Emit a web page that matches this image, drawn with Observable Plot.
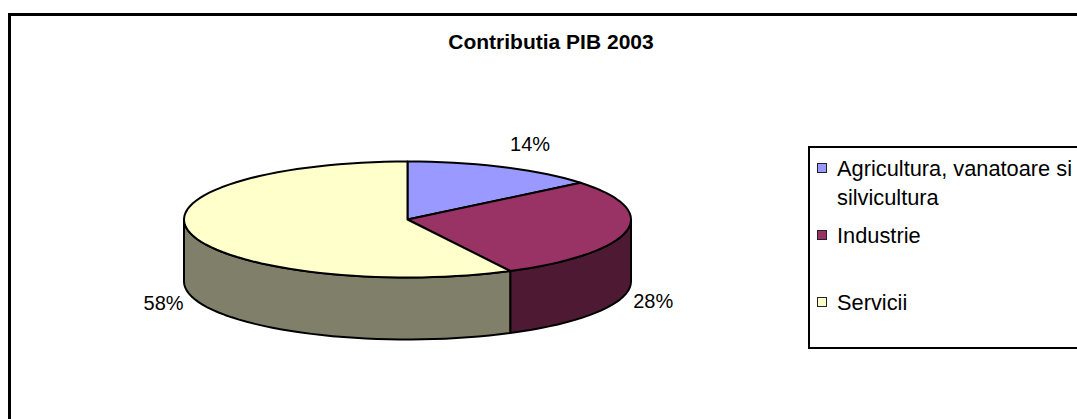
<!DOCTYPE html>
<html>
<head>
<meta charset="utf-8">
<script src="https://cdn.jsdelivr.net/npm/d3@7"></script>
<script src="https://cdn.jsdelivr.net/npm/@observablehq/plot@0.6"></script>
<style>
  html, body { margin: 0; padding: 0; background: #fff; }
  #wrap { position: relative; width: 1077px; height: 419px; overflow: hidden; font-family: "Liberation Sans", Arial, sans-serif; }
  #frame { position: absolute; left: 8px; top: 13px; width: 1200px; height: 600px; border-left: 3px solid #000; border-top: 3px solid #000; }
  #title { position: absolute; left: 351px; width: 400px; top: 31px; text-align: center; font-weight: bold; font-size: 21px; line-height: 21px; color: #000; }
  #chart { position: absolute; left: 0; top: 0; }
  #legend { position: absolute; left: 808px; top: 146px; width: 400px; height: 199px; border: 2px solid #000; background: #fff; }
  .li { position: absolute; font-size: 21.8px; line-height: 21px; white-space: nowrap; color: #000; }
  .sw { position: absolute; width: 8px; height: 8px; border: 1.5px solid #222; }
</style>
</head>
<body>
<div id="wrap">
  <div id="frame"></div>
  <div id="title"></div>
  <div id="chart"></div>
  <div id="legend"></div>
</div>
<script>
// ---- data ----
const title = "Contributia PIB 2003";
const categories = ["Agricultura, vanatoare si silvicultura", "Industrie", "Servicii"];
const legendLines = [["Agricultura, vanatoare si", "silvicultura"], ["Industrie"], ["Servicii"]];
const values = [14.1, 28.3, 57.6];
const topColors = ["#9999FF", "#993366", "#FFFFCC"];
const sideColors = ["#4D4D80", "#4D1933", "#80806A"];

// ---- geometry (pie layout) ----
const cx = 407, cy = 219, rx = 223.5, ry = 58, depthPx = 62;
const d = depthPx / ry; // depth in y units
const total = d3.sum(values);
let acc = 0;
const slices = values.map((v, i) => {
  const a0 = acc / total * 2 * Math.PI;
  acc += v;
  const a1 = acc / total * 2 * Math.PI;
  return { i, name: categories[i], v, a0, a1, mid: (a0 + a1) / 2 };
});

const N = 120;
const topPts = [];
const sidePts = [];
for (const s of slices) {
  topPts.push({ k: s.i, x: 0, y: 0 });
  const n = Math.max(4, Math.ceil(N * (s.a1 - s.a0) / (2 * Math.PI)));
  for (let j = 0; j <= n; j++) {
    const t = s.a0 + (s.a1 - s.a0) * j / n;
    topPts.push({ k: s.i, x: Math.sin(t), y: Math.cos(t) });
  }
  topPts.push({ k: s.i, x: 0, y: 0 });
  const b0 = Math.max(s.a0, Math.PI / 2), b1 = Math.min(s.a1, 3 * Math.PI / 2);
  if (b1 > b0) {
    const m = Math.max(4, Math.ceil(N * (b1 - b0) / (2 * Math.PI)));
    const up = [], dn = [];
    for (let j = 0; j <= m; j++) {
      const t = b0 + (b1 - b0) * j / m;
      up.push({ k: s.i, x: Math.sin(t), y: Math.cos(t) });
      dn.push({ k: s.i, x: Math.sin(t), y: Math.cos(t) - d });
    }
    sidePts.push(...up, ...dn.reverse(), up[0]);
  }
}

const labels = slices.map(s => {
  const sx = Math.sin(s.mid), cs = Math.cos(s.mid);
  return {
    text: Math.round(s.v / total * 100) + "%",
    x: sx + 0.12 * Math.sign(sx),
    y: cs > 0 ? cs + 0.38 : cs - d - 0.14
  };
});

const plot = Plot.plot({
  width: 1077,
  height: 419,
  margin: 0,
  style: { background: "transparent", overflow: "visible" },
  x: { domain: [-1, 1], range: [cx - rx, cx + rx], axis: null },
  y: { domain: [-1, 1], range: [cy + ry, cy - ry], axis: null },
  marks: [
    Plot.line(sidePts, { x: "x", y: "y", z: "k", fill: d => sideColors[d.k], stroke: "#000", strokeWidth: 2, strokeLinejoin: "round", curve: "linear" }),
    Plot.line(topPts, { x: "x", y: "y", z: "k", fill: d => topColors[d.k], stroke: "#000", strokeWidth: 2, strokeLinejoin: "round", curve: "linear" }),
    Plot.text(labels, { x: "x", y: "y", text: "text", fontSize: 20, fill: "#000", textAnchor: "middle", lineAnchor: "middle", fontFamily: "Liberation Sans, Arial, sans-serif" })
  ]
});
document.getElementById("chart").appendChild(plot);

document.getElementById("title").textContent = title;

// legend
const lg = document.getElementById("legend");
const lgLeft = 808 + 2, lgTop = 146 + 2;
const baselines = [[176, 205], [243], [310]];
legendLines.forEach((lines, i) => {
  const sw = document.createElement("div");
  sw.className = "sw";
  sw.style.background = topColors[i];
  sw.style.left = (817 - lgLeft) + "px";
  sw.style.top = (baselines[i][0] - 13 - lgTop) + "px";
  lg.appendChild(sw);
  lines.forEach((t, j) => {
    const el = document.createElement("div");
    el.className = "li";
    el.textContent = t;
    el.style.left = (837 - lgLeft) + "px";
    el.style.top = (baselines[i][j] - 18 - lgTop) + "px";
    lg.appendChild(el);
  });
});
</script>
</body>
</html>
